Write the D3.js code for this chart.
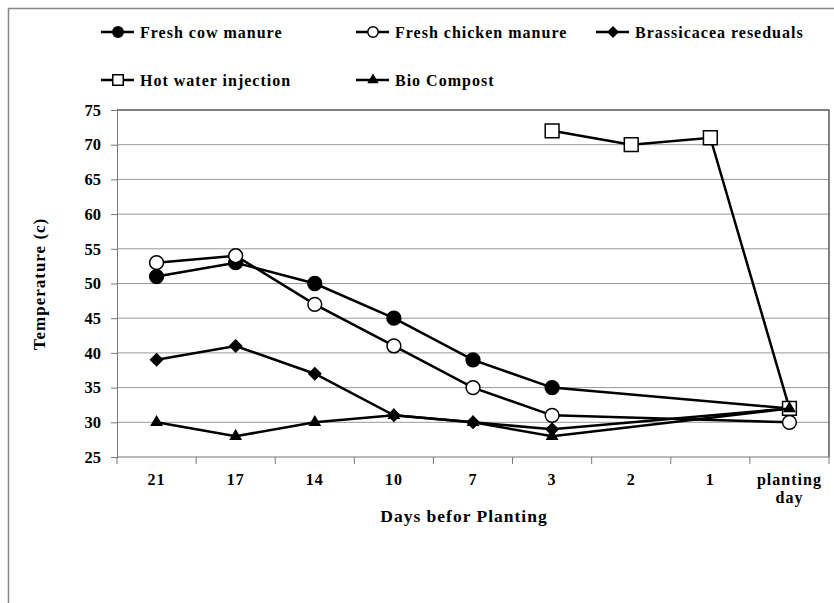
<!DOCTYPE html>
<html>
<head>
<meta charset="utf-8">
<script src="https://cdn.jsdelivr.net/npm/d3@7"></script>
<style>
  body { margin: 0; background: #fff; }
  svg text { font-family: "Liberation Serif", "Times New Roman", serif; font-weight: bold; fill: #000; }
</style>
</head>
<body>
<script>
// Chart data
var days = ["21", "17", "14", "10", "7", "3", "2", "1", "planting day"];
var cowManure = [51, 53, 50, 45, 39, 35, null, null, 32];
var chickenManure = [53, 54, 47, 41, 35, 31, null, null, 30];
var brassicacea = [39, 41, 37, 31, 30, 29, null, null, 32];
var hotWater = [null, null, null, null, null, 72, 70, 71, 32];
var bioCompost = [30, 28, 30, 31, 30, 28, null, null, 32];
var yTicks = [25, 30, 35, 40, 45, 50, 55, 60, 65, 70, 75];

var series = [
  { name: "Fresh cow manure", values: cowManure, marker: "circle", fill: "#000" },
  { name: "Fresh chicken manure", values: chickenManure, marker: "circle", fill: "#fff" },
  { name: "Brassicacea reseduals", values: brassicacea, marker: "diamond", fill: "#000" },
  { name: "Hot water injection", values: hotWater, marker: "square", fill: "#fff" },
  { name: "Bio Compost", values: bioCompost, marker: "triangle", fill: "#000" }
];

var svgWidth = 834;
var svgHeight = 603;
var margin = { top: 110, left: 117 };
var chartWidth = 712;
var chartHeight = 347;

var svg = d3.select("body").append("svg")
  .attr("width", svgWidth)
  .attr("height", svgHeight);

// outer frame (runs off the right and bottom edges)
svg.append("rect")
  .attr("x", 8.5).attr("y", 8.5)
  .attr("width", 900).attr("height", 700)
  .attr("fill", "none").attr("stroke", "#888").attr("stroke-width", 1.5);

var chartGroup = svg.append("g")
  .attr("transform", `translate(${margin.left}, ${margin.top})`);

var xScale = d3.scaleBand().domain(days).range([0, chartWidth]);
var yScale = d3.scaleLinear().domain([25, 75]).range([chartHeight, 0]);

// gridlines
chartGroup.selectAll(".grid")
  .data(yTicks.filter(d => d > 25))
  .enter().append("line")
  .attr("x1", 0).attr("x2", chartWidth)
  .attr("y1", d => yScale(d)).attr("y2", d => yScale(d))
  .attr("stroke", "#999").attr("stroke-width", 1);

// plot border top / right
chartGroup.append("path")
  .attr("d", `M0,0H${chartWidth}V${chartHeight}`)
  .attr("fill", "none").attr("stroke", "#333").attr("stroke-width", 1.2);

// y axis
var leftAxis = d3.axisLeft(yScale).tickValues(yTicks).tickSize(6).tickPadding(10);
var yAxisG = chartGroup.append("g").call(leftAxis);
yAxisG.select(".domain").attr("stroke", "#777");
yAxisG.selectAll(".tick line").attr("stroke", "#777");
yAxisG.selectAll("text").attr("font-family", null).style("font-size", "16.5px");

// x axis: ticks between categories
var xAxisG = chartGroup.append("g").attr("transform", `translate(0, ${chartHeight})`);
xAxisG.append("line").attr("x1", 0).attr("x2", chartWidth)
  .attr("stroke", "#777").attr("stroke-width", 1);
xAxisG.selectAll(".xtick")
  .data(d3.range(days.length + 1))
  .enter().append("line")
  .attr("x1", i => i * xScale.step()).attr("x2", i => i * xScale.step())
  .attr("y1", 0).attr("y2", 7)
  .attr("stroke", "#777");
xAxisG.selectAll(".xlabel")
  .data(days)
  .enter().append("text")
  .attr("x", d => xScale(d) + xScale.bandwidth() / 2)
  .attr("y", 28)
  .attr("text-anchor", "middle")
  .style("font-size", "16px").style("letter-spacing", "1px")
  .each(function(d) {
    var words = d.split(" ");
    var t = d3.select(this);
    words.forEach(function(w, i) {
      t.append("tspan").attr("x", xScale(d) + xScale.bandwidth() / 2)
        .attr("dy", i === 0 ? 0 : 18).text(w);
    });
  });

// axis titles
svg.append("text")
  .attr("transform", "translate(45, 284) rotate(-90)")
  .attr("text-anchor", "middle")
  .style("font-size", "17px").style("letter-spacing", "1px")
  .text("Temperature (c)");
svg.append("text")
  .attr("x", 464).attr("y", 522)
  .attr("text-anchor", "middle")
  .style("font-size", "17.5px").style("letter-spacing", "1px")
  .text("Days befor Planting");

var symbolTypes = {
  circle: d3.symbol().type(d3.symbolCircle).size(150),
  diamond: d3.symbol().type(d3.symbolDiamond2).size(90),
  square: d3.symbol().type(d3.symbolSquare).size(190),
  triangle: d3.symbol().type(d3.symbolTriangle2).size(75)
};
var legendSymbols = {
  circle: d3.symbol().type(d3.symbolCircle).size(85),
  diamond: d3.symbol().type(d3.symbolDiamond2).size(60),
  square: d3.symbol().type(d3.symbolSquare).size(110),
  triangle: d3.symbol().type(d3.symbolTriangle2).size(55)
};

var line = d3.line()
  .x(d => xScale(d.day) + xScale.bandwidth() / 2)
  .y(d => yScale(d.value));

series.forEach(function(s) {
  var pts = s.values.map((v, i) => ({ day: days[i], value: v })).filter(d => d.value !== null);
  chartGroup.append("path")
    .datum(pts)
    .attr("d", line)
    .attr("fill", "none").attr("stroke", "#000").attr("stroke-width", 2.5);
  chartGroup.selectAll(null)
    .data(pts)
    .enter().append("path")
    .attr("d", symbolTypes[s.marker])
    .attr("transform", d => `translate(${xScale(d.day) + xScale.bandwidth() / 2}, ${yScale(d.value)})`)
    .attr("fill", s.fill).attr("stroke", "#000").attr("stroke-width", 1.5);
});

// legend
var legendPos = [[101, 32], [356, 32], [596, 32], [101, 80], [356, 80]];
series.forEach(function(s, i) {
  var g = svg.append("g").attr("transform", `translate(${legendPos[i][0]}, ${legendPos[i][1]})`);
  g.append("line").attr("x1", 0).attr("x2", 33).attr("y1", 0).attr("y2", 0)
    .attr("stroke", "#000").attr("stroke-width", 2.5);
  g.append("path").attr("d", legendSymbols[s.marker])
    .attr("transform", "translate(17,0)")
    .attr("fill", s.fill).attr("stroke", "#000").attr("stroke-width", 1.5);
  g.append("text").attr("x", 39).attr("y", 6)
    .style("font-size", "16px").style("letter-spacing", "1px")
    .text(s.name);
});
</script>
</body>
</html>
